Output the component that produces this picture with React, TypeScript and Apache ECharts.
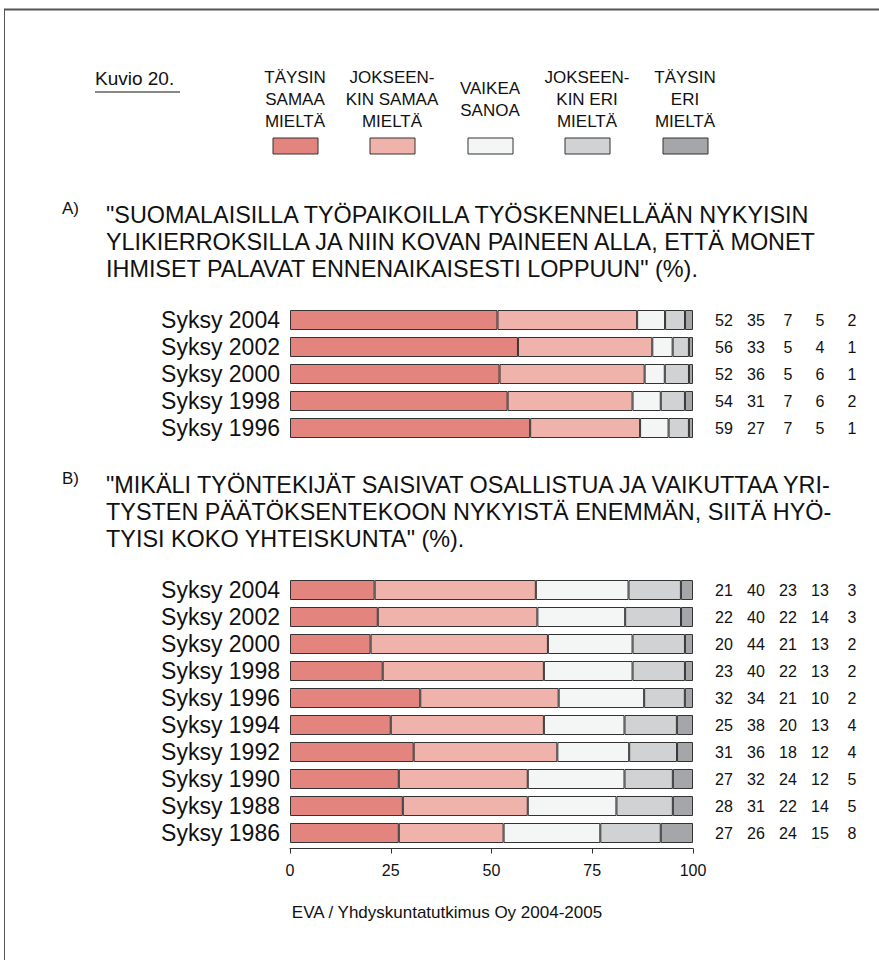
import React, { useEffect, useRef } from "react";
import * as echarts from "echarts";

// ---------- DATA ----------
const legendLabels = [
  "TÄYSIN\nSAMAA\nMIELTÄ",
  "JOKSEEN-\nKIN SAMAA\nMIELTÄ",
  "VAIKEA\nSANOA",
  "JOKSEEN-\nKIN ERI\nMIELTÄ",
  "TÄYSIN\nERI\nMIELTÄ",
];
const seriesColors = ["#E3857E", "#F0B3AB", "#F4F6F5", "#D1D2D4", "#A5A6A9"];

const categoriesA = ["Syksy 2004", "Syksy 2002", "Syksy 2000", "Syksy 1998", "Syksy 1996"];
const agreeFullyA = [52, 56, 52, 54, 59];
const agreeSomewhatA = [35, 33, 36, 31, 27];
const cantSayA = [7, 5, 5, 7, 7];
const disagreeSomewhatA = [5, 4, 6, 6, 5];
const disagreeFullyA = [2, 1, 1, 2, 1];

const categoriesB = [
  "Syksy 2004", "Syksy 2002", "Syksy 2000", "Syksy 1998", "Syksy 1996",
  "Syksy 1994", "Syksy 1992", "Syksy 1990", "Syksy 1988", "Syksy 1986",
];
const agreeFullyB = [21, 22, 20, 23, 32, 25, 31, 27, 28, 27];
const agreeSomewhatB = [40, 40, 44, 40, 34, 38, 36, 32, 31, 26];
const cantSayB = [23, 22, 21, 22, 21, 20, 18, 24, 22, 24];
const disagreeSomewhatB = [13, 14, 13, 13, 10, 13, 12, 12, 14, 15];
const disagreeFullyB = [3, 3, 2, 2, 2, 4, 4, 5, 5, 8];

const xTicks = [0, 25, 50, 75, 100];

const titleA =
  '"SUOMALAISILLA TYÖPAIKOILLA TYÖSKENNELLÄÄN NYKYISIN\nYLIKIERROKSILLA JA NIIN KOVAN PAINEEN ALLA, ETTÄ MONET\nIHMISET PALAVAT ENNENAIKAISESTI LOPPUUN" (%).';
const titleB =
  '"MIKÄLI TYÖNTEKIJÄT SAISIVAT OSALLISTUA JA VAIKUTTAA YRI-\nTYSTEN PÄÄTÖKSENTEKOON NYKYISTÄ ENEMMÄN, SIITÄ HYÖ-\nTYISI KOKO YHTEISKUNTA" (%).';
const figureLabel = "Kuvio 20.";
const sourceText = "EVA / Yhdyskuntatutkimus Oy 2004-2005";

const FONT = "'Liberation Sans', Arial, Helvetica, sans-serif";

function normalize(sets: number[][]): number[][] {
  const n = sets[0].length;
  const totals = Array.from({ length: n }, (_, i) => sets.reduce((s, a) => s + a[i], 0));
  return sets.map((a) => a.map((v, i) => (v / totals[i]) * 100));
}

export default function App() {
  const ref = useRef<HTMLDivElement>(null);

  useEffect(() => {
    if (!ref.current) return;
    const chart = echarts.init(ref.current, undefined, { renderer: "svg" });

    const setsA = [agreeFullyA, agreeSomewhatA, cantSayA, disagreeSomewhatA, disagreeFullyA];
    const setsB = [agreeFullyB, agreeSomewhatB, cantSayB, disagreeSomewhatB, disagreeFullyB];
    const normA = normalize(setsA);
    const normB = normalize(setsB);

    const rich: any = {};
    ["c0", "c1", "c2", "c3", "c4"].forEach((k) => {
      rich[k] = { width: 32, align: "center", fontSize: 16, fontFamily: FONT, color: "#111" };
    });
    const numFormatter = (sets: number[][]) => (_v: string, idx: number) =>
      sets.map((s, j) => `{c${j}|${s[idx]}}`).join("");

    const barSeries = (norm: number[][], axisIndex: number, stack: string) =>
      norm.map((vals, j) => ({
        type: "bar",
        name: `${stack}-${j}`,
        stack,
        xAxisIndex: axisIndex,
        yAxisIndex: axisIndex * 2,
        data: vals,
        barWidth: 20,
        itemStyle: { color: seriesColors[j], borderColor: "#333", borderWidth: 1 },
        emphasis: { disabled: true },
      }));

    const catAxis = (cats: string[], gridIndex: number) => ({
      type: "category",
      gridIndex,
      data: cats,
      inverse: true,
      axisLine: { show: false },
      axisTick: { show: false },
      axisLabel: { interval: 0, fontSize: 23, color: "#111", fontFamily: FONT, margin: 10 },
    });
    const numAxis = (cats: string[], gridIndex: number, sets: number[][]) => ({
      type: "category",
      gridIndex,
      data: cats,
      inverse: true,
      position: "right",
      axisLine: { show: false },
      axisTick: { show: false },
      axisLabel: { interval: 0, margin: 15, align: "left", formatter: numFormatter(sets), rich },
    });

    const legendGraphics: any[] = [];
    const centers = [295, 392, 490, 587, 685];
    legendLabels.forEach((lab, i) => {
      legendGraphics.push({
        type: "text",
        x: centers[i],
        y: 99,
        style: {
          text: lab,
          fontSize: 17,
          fontFamily: FONT,
          fill: "#111",
          align: "center",
          verticalAlign: "middle",
          lineHeight: 22,
        },
      });
      legendGraphics.push({
        type: "rect",
        shape: { x: centers[i] - 22, y: 138, width: 45, height: 16 },
        style: { fill: seriesColors[i], stroke: "#333", lineWidth: 1 },
      });
    });

    chart.setOption({
      animation: false,
      backgroundColor: "#fff",
      grid: [
        { left: 290, width: 403, top: 306.5, height: 135 },
        { left: 290, width: 403, top: 576.5, height: 270 },
      ],
      xAxis: [
        { type: "value", gridIndex: 0, min: 0, max: 100, show: false },
        {
          type: "value",
          gridIndex: 1,
          min: 0,
          max: 100,
          interval: 25,
          offset: 2,
          splitLine: { show: false },
          axisLine: { show: true, lineStyle: { color: "#333", width: 1 } },
          axisTick: { show: true, length: 5, lineStyle: { color: "#333" } },
          axisLabel: {
            fontSize: 16,
            color: "#111",
            fontFamily: FONT,
            margin: 14,
            formatter: (v: number) => (xTicks.includes(v) ? String(v) : ""),
          },
        },
      ],
      yAxis: [
        catAxis(categoriesA, 0),
        numAxis(categoriesA, 0, setsA),
        catAxis(categoriesB, 1),
        numAxis(categoriesB, 1, setsB),
      ],
      series: [...barSeries(normA, 0, "A"), ...barSeries(normB, 1, "B")],
      graphic: [
        {
          type: "line",
          shape: { x1: 4, y1: 9.5, x2: 879, y2: 9.5 },
          style: { stroke: "#555", lineWidth: 2 },
        },
        {
          type: "line",
          shape: { x1: 4.5, y1: 9, x2: 4.5, y2: 960 },
          style: { stroke: "#555", lineWidth: 1 },
        },
        {
          type: "text",
          x: 95,
          y: 78,
          style: { text: figureLabel, fontSize: 19, fontFamily: FONT, fill: "#111", verticalAlign: "middle" },
        },
        {
          type: "line",
          shape: { x1: 95, y1: 92, x2: 180, y2: 92 },
          style: { stroke: "#111", lineWidth: 1 },
        },
        ...legendGraphics,
        {
          type: "text",
          x: 62,
          y: 208,
          style: { text: "A)", fontSize: 17, fontFamily: FONT, fill: "#111", verticalAlign: "middle" },
        },
        {
          type: "text",
          x: 106,
          y: 242,
          style: {
            text: titleA,
            fontSize: 23.4,
            fontFamily: FONT,
            fill: "#111",
            verticalAlign: "middle",
            lineHeight: 27,
          },
        },
        {
          type: "text",
          x: 62,
          y: 478,
          style: { text: "B)", fontSize: 17, fontFamily: FONT, fill: "#111", verticalAlign: "middle" },
        },
        {
          type: "text",
          x: 106,
          y: 512,
          style: {
            text: titleB,
            fontSize: 23.4,
            fontFamily: FONT,
            fill: "#111",
            verticalAlign: "middle",
            lineHeight: 27,
          },
        },
        {
          type: "text",
          x: 447,
          y: 912,
          style: {
            text: sourceText,
            fontSize: 17,
            fontFamily: FONT,
            fill: "#111",
            align: "center",
            verticalAlign: "middle",
          },
        },
      ],
    });

    return () => chart.dispose();
  }, []);

  return (
    <div
      ref={ref}
      style={{ position: "absolute", left: 0, top: 0, width: 879, height: 960 }}
    />
  );
}
